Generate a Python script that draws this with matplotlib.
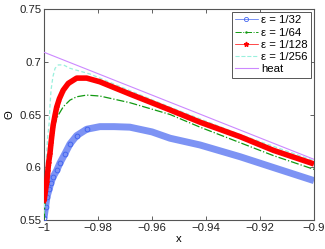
import matplotlib
matplotlib.use("Agg")
import matplotlib.pyplot as plt
from matplotlib.lines import Line2D

# ---- data ----
x_heat = [-1.0, -0.9]
y_heat = [0.709, 0.6075]

x_32 = [-1.0, -0.9994, -0.9989, -0.9981, -0.9975, -0.9966, -0.9953, -0.9941, -0.9922,
        -0.9904, -0.9879, -0.9842, -0.9793, -0.9740, -0.9682, -0.9600, -0.9533, -0.9422,
        -0.9274, -0.9150, -0.9000]
y_32 = [0.552, 0.5626, 0.572, 0.579, 0.585, 0.591, 0.597, 0.604, 0.613,
        0.622, 0.630, 0.636, 0.6385, 0.6385, 0.638, 0.6335, 0.6275, 0.6211,
        0.610, 0.5997, 0.5873]

x_64 = [-1.0, -0.99963, -0.99926, -0.999, -0.99841, -0.99778, -0.99715, -0.99656, -0.99593,
        -0.99481, -0.99285, -0.9904, -0.9879, -0.9842, -0.9793, -0.9682, -0.9533, -0.9422,
        -0.9274, -0.915, -0.9]
y_64 = [0.551, 0.566, 0.5816, 0.594, 0.607, 0.617, 0.626, 0.634, 0.641,
        0.649, 0.6574, 0.6636, 0.6668, 0.6684, 0.6675, 0.6612, 0.650, 0.638,
        0.6233, 0.611, 0.598]

x_128 = [-1.0, -0.9995, -0.999, -0.9986, -0.9983, -0.9978, -0.9974, -0.997, -0.9966,
         -0.9959, -0.9953, -0.9943, -0.9929, -0.991, -0.9879, -0.9842, -0.9793, -0.9682,
         -0.9533, -0.9422, -0.9274, -0.9150, -0.9]
y_128 = [0.568, 0.577, 0.586, 0.596, 0.604, 0.613, 0.623, 0.632, 0.640,
         0.6495, 0.657, 0.665, 0.673, 0.6795, 0.6845, 0.6845, 0.681, 0.6694,
         0.6543, 0.6427, 0.629, 0.616, 0.6031]

x_256 = [-1.0, -0.9996, -0.9993, -0.999, -0.9987, -0.9981, -0.9978, -0.9974, -0.9967,
         -0.9959, -0.9947, -0.9928, -0.9904, -0.9830, -0.9682, -0.9533, -0.9274, -0.9]
y_256 = [0.556, 0.575, 0.595, 0.612, 0.627, 0.6417, 0.6574, 0.673, 0.6858,
         0.6938, 0.697, 0.697, 0.6938, 0.6884, 0.6726, 0.657, 0.631, 0.6062]

labels = ["ε = 1/32", "ε = 1/64", "ε = 1/128", "ε = 1/256", "heat"]
xticks = [-1, -0.98, -0.96, -0.94, -0.92, -0.9]
xticklabels = ["\u22121", "\u22120.98", "\u22120.96", "\u22120.94", "\u22120.92", "\u22120.9"]
yticks = [0.55, 0.6, 0.65, 0.7, 0.75]
yticklabels = ["0.55", "0.6", "0.65", "0.7", "0.75"]

plt.rcParams['font.family'] = ['Liberation Sans', 'DejaVu Sans']
fs = 8.2

fig = plt.figure(figsize=(3.25, 2.49), dpi=100)
ax = fig.add_axes([44/325, 29/249, 270/325, 211/249])

c_blue = '#4466f0'
c_green = '#119911'
c_red = '#ff0000'
c_cyan = '#99f0dd'
c_purple = '#cc88ff'

ax.plot(x_32, y_32, '-', color='#7d93f4', lw=5, solid_capstyle='butt', zorder=2)
ax.plot(x_32, y_32, 'o', color=c_blue, mfc='none', ms=3.4, mew=0.7, markevery=slice(0, 12), zorder=3)
ax.plot(x_64, y_64, '-.', color=c_green, lw=0.9, zorder=3)
ax.plot(x_128, y_128, '-', color=c_red, lw=4, solid_capstyle='butt', zorder=4)
ax.plot(x_128, y_128, '*', color=c_red, ms=3.5, mew=0.5, markevery=slice(0, 14), zorder=4)
ax.plot(x_256, y_256, '--', color=c_cyan, lw=0.9, dashes=(3, 2), zorder=3)
ax.plot(x_heat, y_heat, '-', color=c_purple, lw=0.8, zorder=3)

ax.set_xlim(-1, -0.9)
ax.set_ylim(0.55, 0.75)
ax.set_xticks(xticks)
ax.set_xticklabels(xticklabels, fontsize=fs)
ax.set_yticks(yticks)
ax.set_yticklabels(yticklabels, fontsize=fs)
ax.tick_params(direction='in', length=3, width=0.5, top=True, right=True, pad=2, colors='#222222')
for s in ax.spines.values():
    s.set_linewidth(0.8)
    s.set_color('#555555')
ax.set_xlabel('x', fontsize=fs, labelpad=1)
ax.set_ylabel('Θ', fontsize=fs, labelpad=3)

handles = [
    Line2D([], [], color=c_blue, ls='-', lw=0.5, marker='o', mfc='none', ms=3, mew=0.6),
    Line2D([], [], color=c_green, ls='-.', lw=0.7, marker='.', ms=1.5),
    Line2D([], [], color=c_red, ls='-', lw=0.5, marker='*', ms=3.5),
    Line2D([], [], color=c_cyan, ls='--', lw=0.8),
    Line2D([], [], color=c_purple, ls='-', lw=0.8),
]
leg = ax.legend(handles, labels, loc='upper right', fontsize=fs, fancybox=False,
                edgecolor='#555555', framealpha=1, handlelength=2.0, handletextpad=0.3,
                borderpad=0.3, labelspacing=0.2, borderaxespad=0.25)
leg.get_frame().set_linewidth(0.7)

fig.savefig('out.png', dpi=100)
